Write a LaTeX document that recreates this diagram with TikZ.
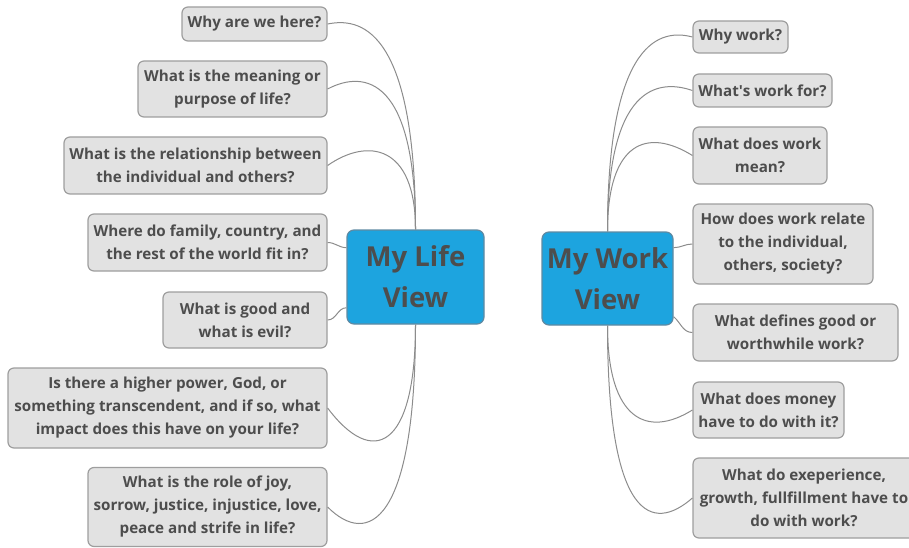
\documentclass[tikz,border=0pt]{standalone}
\usepackage{fontspec}
\setmainfont{Open Sans}
\usetikzlibrary{positioning}
\definecolor{boxfill}{HTML}{E2E2E2}
\definecolor{boxline}{HTML}{9E9E9E}
\definecolor{viewfill}{HTML}{1DA4DF}
\definecolor{viewline}{HTML}{5F8AA3}
\definecolor{txt}{HTML}{4D4D4D}
\definecolor{wire}{HTML}{8C8C8C}
\tikzset{
    mynode/.style = {rectangle, rounded corners=6pt, line width=1.2pt, draw=boxline, fill=boxfill, align=center, inner sep=0pt, text=txt, font=\bfseries\fontsize{15.2}{23}\selectfont},
    mynodeb/.style = {rectangle, rounded corners=7pt, line width=1.2pt, draw=viewline, fill=viewfill, align=center, inner sep=0pt, text=txt, font=\bfseries\fontsize{27.5}{41}\selectfont},
    edgen/.style = {draw=wire, line width=1pt},
}

\begin{document}
\begin{tikzpicture}[x=1pt,y=1pt]
\path[use as bounding box] (0,0) rectangle (909,547);
\clip (0,0) rectangle (909,547);
% centres
\node[mynodeb, minimum width=137, minimum height=94] at (415.5,270.0) (life) {My Life\\View};
\node[mynodeb, minimum width=131, minimum height=93] at (607.5,268.5) (work) {My Work\\View};
% life questions
\node[mynode, minimum width=145, minimum height=34] at (254.5,523.0) (lq1) {Why are we here?};
\node[mynode, minimum width=189, minimum height=56] at (232.5,458.0) (lq2) {What is the meaning or\\purpose of life?};
\node[mynode, minimum width=263, minimum height=57] at (195.5,381.5) (lq3) {What is the relationship between\\the individual and others?};
\node[mynode, minimum width=239, minimum height=57] at (207.5,304.5) (lq4) {Where do family, country, and\\the rest of the world fit in?};
\node[mynode, minimum width=164, minimum height=56] at (245.0,227.0) (lq5) {What is good and\\what is evil?};
\node[mynode, minimum width=319, minimum height=80] at (167.5,139.0) (lq6) {Is there a higher power, God, or\\something transcendent, and if so, what\\impact does this have on your life?};
\node[mynode, minimum width=239, minimum height=79] at (207.5,40.0) (lq7) {What is the role of joy,\\sorrow, justice, injustice, love,\\peace and strife in life?};
% work questions
\node[mynode, minimum width=95, minimum height=32] at (740.5,510.0) (rq1) {Why work?};
\node[mynode, minimum width=139, minimum height=33] at (762.5,456.5) (rq2) {What\textquotesingle s work for?};
\node[mynode, minimum width=134, minimum height=57] at (760.0,391.5) (rq3) {What does work\\mean?};
\node[mynode, minimum width=180, minimum height=80] at (783.0,303.0) (rq4) {How does work relate\\to the individual,\\others, society?};
\node[mynode, minimum width=205, minimum height=57] at (795.5,214.5) (rq5) {What defines good or\\worthwhile work?};
\node[mynode, minimum width=151, minimum height=56] at (768.5,137.0) (rq6) {What does money\\have to do with it?};
\node[mynode, minimum width=222, minimum height=80] at (804.0,49.0) (rq7) {What do exeperience,\\growth, fullfillment have to\\do with work?};
%
\draw[edgen] (lq1.east) .. controls +(30,6) and +(0,206) .. (life.north);
\draw[edgen] (lq2.east) .. controls +(38,20) and +(0,150) .. (life.north);
\draw[edgen] (lq3.east) .. controls +(40,28) and +(0,85) .. (life.north);
\draw[edgen] (lq4.east) to[out=0,in=180] (life.157);
\draw[edgen] (lq5.east) to[out=0,in=180] (life.204);
\draw[edgen] (lq6.east) .. controls +(45,-60) and +(0,-125) .. (life.south);
\draw[edgen] (lq7.east) .. controls +(40,-40) and +(0,-200) .. (life.south);
%
\draw[edgen] (rq1.west) .. controls +(-30,8) and +(0,195) .. (work.north);
\draw[edgen] (rq2.west) .. controls +(-35,12) and +(0,145) .. (work.north);
\draw[edgen] (rq3.west) .. controls +(-45,28) and +(0,90) .. (work.north);
\draw[edgen] (work.25) to[out=0,in=180] (rq4.west);
\draw[edgen] (work.-30) to[out=-40,in=180] (rq5.west);
\draw[edgen] (rq6.west) .. controls +(-45,-28) and +(0,-95) .. (work.south);
\draw[edgen] (rq7.west) .. controls +(-40,-35) and +(0,-195) .. (work.south);
\end{tikzpicture}
\end{document}
